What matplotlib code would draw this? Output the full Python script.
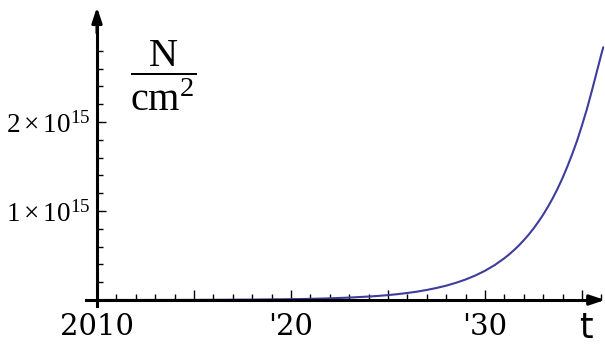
import matplotlib
matplotlib.use("Agg")
import matplotlib.pyplot as plt
from matplotlib.ticker import FixedLocator

# ---- data ----
years = [2010, 2012, 2014, 2016, 2018, 2020, 2021, 2022, 2023, 2024, 2024.5, 2025,
         2025.5, 2026, 2026.5, 2027, 2027.5, 2028, 2028.5, 2029, 2029.5, 2030,
         2030.5, 2031, 2031.25, 2031.5, 2031.75, 2032, 2032.25, 2032.5, 2032.75,
         2033, 2033.25, 2033.5, 2033.75, 2034, 2034.25, 2034.5, 2034.75, 2035,
         2035.25, 2035.5, 2035.75, 2036, 2036.1]
density_e15 = [0.0003, 0.0005, 0.0010, 0.0023, 0.0047, 0.0093, 0.013, 0.019, 0.027,
               0.039, 0.046, 0.055, 0.066, 0.079, 0.094, 0.113, 0.135, 0.161, 0.193,
               0.230, 0.275, 0.328, 0.392, 0.469, 0.513, 0.561, 0.613, 0.671, 0.733,
               0.802, 0.877, 0.958, 1.048, 1.146, 1.253, 1.37, 1.50, 1.64, 1.79,
               1.96, 2.14, 2.34, 2.55, 2.76, 2.84]
scale = 1e15
xtick_pos = [2010, 2015, 2020, 2025, 2030, 2035]
xtick_labels = ["2010", "", "'20", "", "'30", ""]
xminor_pos = [y for y in range(2011, 2037) if y % 5 != 0]
ytick_pos = [1e15, 2e15]
ytick_labels = [r"$\mathrm{1}\times\mathrm{10}^{\mathrm{15}}$",
                r"$\mathrm{2}\times\mathrm{10}^{\mathrm{15}}$"]
yminor_pos = [k * 0.2e15 for k in range(1, 16) if k % 5 != 0]

plt.rcParams["mathtext.fontset"] = "custom"
plt.rcParams["mathtext.rm"] = "Liberation Serif"
plt.rcParams["mathtext.it"] = "Liberation Serif:italic"

fig = plt.figure(figsize=(6.05, 3.47), dpi=100)
ax = fig.add_axes([0, 0, 1, 1])
ax.set_xlim(2005.0, 2036.19)
ax.set_ylim(-0.528e15, 3.371e15)

yv = [v * scale for v in density_e15]
ax.plot(years, yv, color="#3d3d9c", lw=1.5, solid_capstyle="round",
        solid_joinstyle="round", zorder=3)

for s in ["top", "right"]:
    ax.spines[s].set_visible(False)
ax.spines["left"].set_position(("data", 2010))
ax.spines["bottom"].set_position(("data", 0))
ax.spines["left"].set_bounds(-0.07e15, 3.15e15)
ax.spines["bottom"].set_bounds(2009.45, 2035.6)
for s in ["left", "bottom"]:
    ax.spines[s].set_linewidth(2.2)
    ax.spines[s].set_zorder(4)

# arrowheads
ax.annotate("", xy=(2036.19, 0), xytext=(2035.3, 0),
            arrowprops=dict(arrowstyle="-|>,head_length=0.9,head_width=0.3",
                            color="black", lw=2.2, shrinkA=0, shrinkB=0))
ax.annotate("", xy=(2010, 3.29e15), xytext=(2010, 3.0e15),
            arrowprops=dict(arrowstyle="-|>,head_length=0.9,head_width=0.3",
                            color="black", lw=2.2, shrinkA=0, shrinkB=0))

ax.xaxis.set_major_locator(FixedLocator(xtick_pos))
ax.xaxis.set_minor_locator(FixedLocator(xminor_pos))
ax.set_xticklabels(xtick_labels, fontfamily="DejaVu Serif", fontsize=21)
ax.yaxis.set_major_locator(FixedLocator(ytick_pos))
ax.yaxis.set_minor_locator(FixedLocator(yminor_pos))
ax.set_yticklabels(ytick_labels, fontsize=19.5)

ax.tick_params(axis="x", which="major", direction="in", length=7, width=1, pad=9)
ax.tick_params(axis="x", which="minor", direction="in", length=4, width=1)
ax.tick_params(axis="y", which="major", direction="in", length=6.5, width=1, pad=5)
ax.tick_params(axis="y", which="minor", direction="in", length=4, width=1)

ax.text(2035.2, -0.427e15, "t", fontfamily="DejaVu Sans", fontsize=25,
        ha="center", va="baseline")
ax.text(2013.4, 2.52e15, r"$\dfrac{\mathrm{N}}{\mathrm{cm}^{\mathrm{2}}}$",
        fontsize=29, ha="center", va="center")

fig.savefig("out.png", dpi=100)
